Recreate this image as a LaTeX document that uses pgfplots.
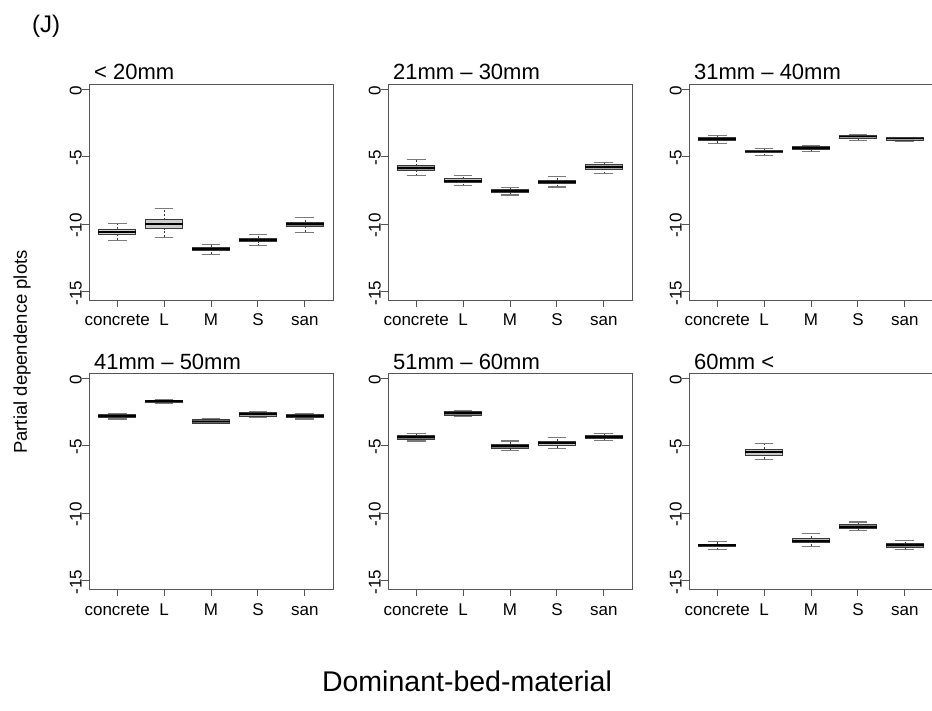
\documentclass[border=0pt]{standalone}
\usepackage{pgfplots}
\pgfplotsset{compat=1.18}
\usepackage{fontspec}
\setmainfont{Liberation Sans}

\definecolor{boxdraw}{HTML}{3A3A3A}
\definecolor{capcol}{HTML}{7A7A7A}
\definecolor{axcol}{HTML}{555555}

\pgfplotsset{
  pdpanel/.style={
    scale only axis, width=244pt, height=216pt,
    xmin=0.4, xmax=5.6, ymin=-15.6, ymax=0.4,
    xtick={1,2,3,4,5}, xticklabels={concrete,L,M,S,san},
    ytick={0,-5,-10,-15}, yticklabels={0,-5,-10,-15},
    tick pos=left, tick align=outside, major tick length=7pt,
    axis line style={draw=axcol, line width=0.9pt},
    tick style={draw=axcol, line width=0.9pt},
    ticklabel style={font=\fontsize{17}{20}\selectfont, text=black},
    xticklabel style={anchor=base, inner sep=0pt, yshift=-19pt},
    yticklabel style={rotate=90, anchor=south, inner sep=0pt, xshift=-1pt},
    title style={anchor=base west, at={(0,1)}, xshift=5pt, yshift=-2pt, inner sep=0pt,
                 font=\fontsize{22}{26}\selectfont},
  },
  boxfill/.style={draw=boxdraw, line width=0.9pt},
  boxmed/.style={draw=black, line width=1.9pt},
  boxstem/.style={draw=boxdraw, line width=0.6pt, dash pattern=on 2pt off 2pt},
  boxcap/.style={draw=capcol, line width=1.1pt},
}

% \bx{position}{lower whisker}{lower quartile}{median}{upper quartile}{upper whisker}{fill}
\newcommand{\bx}[7]{%
  \pgfmathsetmacro\bxL{#1-0.4}\pgfmathsetmacro\bxR{#1+0.4}%
  \pgfmathsetmacro\cpL{#1-0.2}\pgfmathsetmacro\cpR{#1+0.2}%
  \edef\bxtmp{%
    \noexpand\addplot[boxstem] coordinates {(#1,#2) (#1,#3)};
    \noexpand\addplot[boxstem] coordinates {(#1,#5) (#1,#6)};
    \noexpand\addplot[boxcap] coordinates {(\cpL,#2) (\cpR,#2)};
    \noexpand\addplot[boxcap] coordinates {(\cpL,#6) (\cpR,#6)};
    \noexpand\addplot[boxfill, fill=#7] coordinates {(\bxL,#3) (\bxR,#3) (\bxR,#5) (\bxL,#5) (\bxL,#3)};
    \noexpand\addplot[boxmed] coordinates {(\bxL,#4) (\bxR,#4)};
  }\bxtmp}

\begin{document}
\begin{tikzpicture}
\useasboundingbox (0pt,0pt) rectangle (932pt,-711pt);

% Row 1
\begin{axis}[pdpanel, at={(89pt,-84pt)}, anchor=north west, title={< 20mm}]
\bx{1}{-11.16}{-10.74}{-10.54}{-10.34}{-9.93}{black!18}
\bx{2}{-10.96}{-10.32}{-10.00}{-9.67}{-8.81}{black!20}
\bx{3}{-12.20}{-11.93}{-11.83}{-11.70}{-11.46}{black!60}
\bx{4}{-11.58}{-11.28}{-11.16}{-11.04}{-10.77}{black!50}
\bx{5}{-10.59}{-10.12}{-9.97}{-9.85}{-9.48}{black!50}
\end{axis}

\begin{axis}[pdpanel, at={(388pt,-84pt)}, anchor=north west, title={21mm – 30mm}]
\bx{1}{-6.41}{-5.99}{-5.81}{-5.64}{-5.22}{black!40}
\bx{2}{-7.13}{-6.90}{-6.76}{-6.63}{-6.36}{black!22}
\bx{3}{-7.82}{-7.65}{-7.52}{-7.42}{-7.28}{black!55}
\bx{4}{-7.23}{-6.98}{-6.83}{-6.73}{-6.48}{black!60}
\bx{5}{-6.26}{-5.91}{-5.72}{-5.59}{-5.42}{black!35}
\end{axis}

\begin{axis}[pdpanel, at={(689pt,-84pt)}, anchor=north west, title={31mm – 40mm}]
\bx{1}{-3.98}{-3.81}{-3.68}{-3.56}{-3.41}{black!40}
\bx{2}{-4.90}{-4.70}{-4.60}{-4.50}{-4.35}{black!65}
\bx{3}{-4.58}{-4.48}{-4.36}{-4.26}{-4.16}{black!45}
\bx{4}{-3.76}{-3.64}{-3.49}{-3.38}{-3.31}{black!40}
\bx{5}{-3.88}{-3.76}{-3.64}{-3.59}{-3.54}{black!35}
\end{axis}

% Row 2
\begin{axis}[pdpanel, at={(89pt,-373pt)}, anchor=north west, title={41mm – 50mm}]
\bx{1}{-3.01}{-2.91}{-2.79}{-2.67}{-2.62}{black!35}
\bx{2}{-1.83}{-1.78}{-1.70}{-1.60}{-1.56}{black!35}
\bx{3}{-3.36}{-3.31}{-3.19}{-3.06}{-3.01}{black!60}
\bx{4}{-2.89}{-2.84}{-2.67}{-2.54}{-2.49}{black!35}
\bx{5}{-3.01}{-2.91}{-2.77}{-2.64}{-2.62}{black!35}
\end{axis}

\begin{axis}[pdpanel, at={(388pt,-373pt)}, anchor=north west, title={51mm – 60mm}]
\bx{1}{-4.64}{-4.52}{-4.37}{-4.20}{-4.05}{black!55}
\bx{2}{-2.81}{-2.72}{-2.57}{-2.42}{-2.35}{black!50}
\bx{3}{-5.36}{-5.16}{-5.01}{-4.89}{-4.64}{black!50}
\bx{4}{-5.19}{-4.94}{-4.79}{-4.64}{-4.37}{black!22}
\bx{5}{-4.57}{-4.42}{-4.32}{-4.22}{-4.07}{black!55}
\end{axis}

\begin{axis}[pdpanel, at={(689pt,-373pt)}, anchor=north west, title={60mm <}]
\bx{1}{-12.69}{-12.47}{-12.37}{-12.30}{-12.10}{black!65}
\bx{2}{-5.98}{-5.68}{-5.46}{-5.26}{-4.81}{black!22}
\bx{3}{-12.44}{-12.17}{-12.02}{-11.85}{-11.48}{black!28}
\bx{4}{-11.28}{-11.14}{-10.99}{-10.84}{-10.64}{black!50}
\bx{5}{-12.67}{-12.49}{-12.37}{-12.24}{-12.02}{black!50}
\end{axis}

% Overall labels
\node[anchor=west, inner sep=0pt, font=\fontsize{24}{28}\selectfont] at (32pt,-26pt) {(J)};
\node[rotate=90, inner sep=0pt, font=\fontsize{18.5}{22}\selectfont] at (22pt,-352pt) {Partial dependence plots};
\node[inner sep=0pt, font=\fontsize{28.5}{33}\selectfont] at (467pt,-681pt) {Dominant-bed-material};
\end{tikzpicture}
\end{document}
